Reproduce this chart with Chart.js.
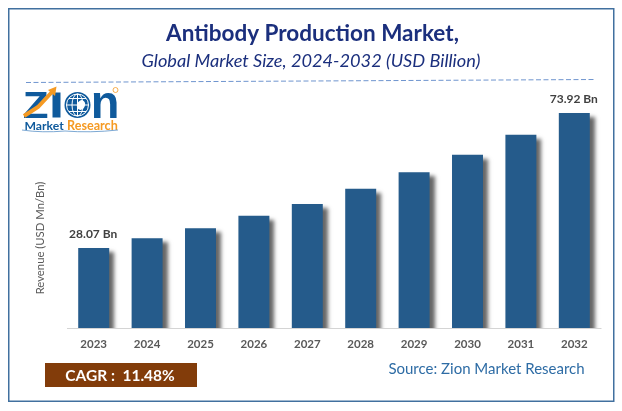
<!DOCTYPE html>
<html lang="en">
<head>
  <meta charset="UTF-8">
  <title>Antibody Production Market</title>
  <script src="https://cdn.jsdelivr.net/npm/chart.js"></script>
  <style>
    body { margin: 0; padding: 0; background-color: white; }
    canvas { display: block; }
  </style>
</head>
<body>
<canvas id="marketChart" width="622" height="411"></canvas>
<script>
  var years = ['2023', '2024', '2025', '2026', '2027', '2028', '2029', '2030', '2031', '2032'];
  var revenue = [28.07, 31.4, 34.8, 39.0, 43.0, 48.2, 53.8, 59.7, 66.5, 73.92];
  var barLabels = ['28.07 Bn', '', '', '', '', '', '', '', '', '73.92 Bn'];

  var FONT = 'Lato, "Open Sans", sans-serif';

  function putText(ctx, text, x, y, font, color, align) {
    ctx.font = font;
    ctx.fillStyle = color;
    ctx.textAlign = align || 'center';
    ctx.textBaseline = 'middle';
    ctx.fillText(text, x, y);
  }

  // frame, title block and logo go under the bars
  var backdrop = {
    id: 'backdrop',
    beforeDraw: function (chart) {
      var ctx = chart.ctx;
      ctx.save();
      ctx.fillStyle = 'white';
      ctx.fillRect(0, 0, 622, 411);
      ctx.strokeStyle = '#41709f';
      ctx.lineWidth = 1.5;
      ctx.strokeRect(8.75, 8.75, 605, 392.5);

      putText(ctx, 'Antibody Production Market,', 312.5, 34, 'bold 22.5px ' + FONT, '#1b2f7d');
      putText(ctx, 'Global Market Size, 2024-2032 (USD Billion)', 311, 61, 'italic 18.2px ' + FONT, '#1b2f7d');

      ctx.strokeStyle = '#6f95cf';
      ctx.lineWidth = 1;
      ctx.setLineDash([5, 2.5]);
      ctx.beginPath();
      ctx.moveTo(26, 82.5);
      ctx.lineTo(595, 79.5);
      ctx.stroke();
      ctx.setLineDash([]);

      drawLogo(ctx);

      ctx.fillStyle = '#823c0a';
      ctx.fillRect(45, 363, 152, 24);
      putText(ctx, 'CAGR :  11.48%', 120, 375.5, 'bold 15.5px ' + FONT, 'white');
      putText(ctx, 'Source: Zion Market Research', 486.5, 369, '15px ' + FONT, '#2e6ca5');

      // y title sits lower than the plot centre in the original
      ctx.translate(40, 238);
      ctx.rotate(-Math.PI / 2);
      putText(ctx, 'Revenue (USD Mn/Bn)', 0, 0, '11.3px ' + FONT, '#595959');
      ctx.restore();
    }
  };

  function stretchedLetter(ctx, letter, x, baseY, size, sx, color) {
    ctx.save();
    ctx.translate(x, baseY);
    ctx.scale(sx, 1);
    ctx.font = 'bold ' + size + 'px "Liberation Sans"';
    ctx.fillStyle = color;
    ctx.textAlign = 'center';
    ctx.textBaseline = 'alphabetic';
    ctx.fillText(letter, 0, 0);
    ctx.restore();
  }

  function drawLogo(ctx) {
    var blue = '#0f5a9c';
    var orange = '#f59a23';
    stretchedLetter(ctx, 'Z', 35.5, 117.5, 36, 1.17, blue);
    ctx.fillStyle = blue;
    ctx.fillRect(52.5, 92.5, 8, 25);
    stretchedLetter(ctx, 'n', 105, 117.5, 47, 1.0, blue);

    // globe
    ctx.fillStyle = blue;
    ctx.beginPath();
    ctx.arc(77.5, 105, 13, 0, Math.PI * 2);
    ctx.fill();
    ctx.strokeStyle = 'white';
    ctx.lineWidth = 1;
    ctx.beginPath();
    ctx.arc(77.5, 105, 11, 0, Math.PI * 2);
    ctx.moveTo(77.5, 94);
    ctx.lineTo(77.5, 116);
    ctx.moveTo(66.5, 105);
    ctx.lineTo(88.5, 105);
    ctx.moveTo(69, 98.5);
    ctx.lineTo(86, 98.5);
    ctx.moveTo(69, 111.5);
    ctx.lineTo(86, 111.5);
    ctx.stroke();
    ctx.beginPath();
    ctx.ellipse(77.5, 105, 5.5, 11, 0, 0, Math.PI * 2);
    ctx.stroke();
    ctx.fillStyle = 'white';
    ctx.beginPath();
    ctx.ellipse(81, 105, 4, 5, 0.4, 0, Math.PI * 2);
    ctx.fill();

    // arrow through the Z
    ctx.strokeStyle = orange;
    ctx.lineWidth = 4;
    ctx.beginPath();
    ctx.moveTo(24, 116);
    ctx.lineTo(38, 107);
    ctx.lineTo(52, 92);
    ctx.stroke();
    ctx.fillStyle = orange;
    ctx.beginPath();
    ctx.moveTo(56.5, 86.5);
    ctx.lineTo(55, 96);
    ctx.lineTo(48, 90);
    ctx.closePath();
    ctx.fill();

    ctx.beginPath();
    ctx.arc(115.5, 90, 2.5, 0, Math.PI * 2);
    ctx.strokeStyle = orange;
    ctx.lineWidth = 0.8;
    ctx.stroke();

    putText(ctx, 'Market', 24.5, 126, 'bold 12.2px ' + FONT, blue, 'left');
    putText(ctx, 'Research', 67, 126, 'bold 12.6px ' + FONT, orange, 'left');
    ctx.strokeStyle = '#5b92c8';
    ctx.lineWidth = 0.8;
    ctx.beginPath();
    ctx.moveTo(22, 130);
    ctx.quadraticCurveTo(42, 133, 65, 131);
    ctx.quadraticCurveTo(90, 133, 118, 130);
    ctx.stroke();
  }

  // soft shadow down the right of each bar, and the two end labels
  var barExtras = {
    id: 'barExtras',
    beforeDatasetDraw: function (chart) {
      var ctx = chart.ctx;
      ctx.save();
      ctx.shadowColor = 'rgba(0, 0, 0, 0.6)';
      ctx.shadowBlur = 4;
      ctx.shadowOffsetX = 5;
      ctx.shadowOffsetY = 4;
    },
    afterDatasetDraw: function (chart) {
      chart.ctx.restore();
    },
    afterDatasetsDraw: function (chart) {
      var ctx = chart.ctx;
      var bars = chart.getDatasetMeta(0).data;
      ctx.save();
      // cover the shadow that spills under the axis line
      ctx.fillStyle = 'white';
      ctx.fillRect(60, chart.chartArea.bottom + 0.5, 545, 8);
      ctx.strokeStyle = '#d4d4d4';
      ctx.beginPath();
      ctx.moveTo(chart.chartArea.left, chart.chartArea.bottom + 0.5);
      ctx.lineTo(chart.chartArea.right, chart.chartArea.bottom + 0.5);
      ctx.stroke();
      bars.forEach(function (bar, i) {
        if (barLabels[i]) {
          putText(ctx, barLabels[i], bar.x - 0.5, bar.y - 13.5, 'bold 12px ' + FONT, '#404040');
        }
      });
      ctx.restore();
    }
  };

  var ctx = document.getElementById('marketChart').getContext('2d');

  var marketChart = new Chart(ctx, {
    type: 'bar',
    data: {
      labels: years,
      datasets: [{
        data: revenue,
        backgroundColor: '#255b8b',
        categoryPercentage: 1,
        barPercentage: 0.58
      }]
    },
    plugins: [backdrop, barExtras],
    options: {
      responsive: false,
      animation: false,
      devicePixelRatio: 1,
      layout: {
        padding: { left: 31, right: 21, top: 95.1, bottom: 61 }
      },
      plugins: {
        legend: { display: false },
        tooltip: { enabled: false }
      },
      scales: {
        x: {
          grid: { display: false, drawTicks: false },
          border: { color: '#d4d4d4', width: 1 },
          ticks: {
            color: '#595959',
            padding: 9,
            maxRotation: 0,
            autoSkip: false,
            font: { family: FONT, size: 11.5, weight: 'bold' }
          },
          afterFit: function (scale) { scale.height = 22; }
        },
        y: {
          min: 0.9,
          max: 80,
          grid: { display: false },
          border: { display: false },
          ticks: { display: false },
          afterFit: function (scale) { scale.width = 36; }
        }
      }
    }
  });
</script>
</body>
</html>
